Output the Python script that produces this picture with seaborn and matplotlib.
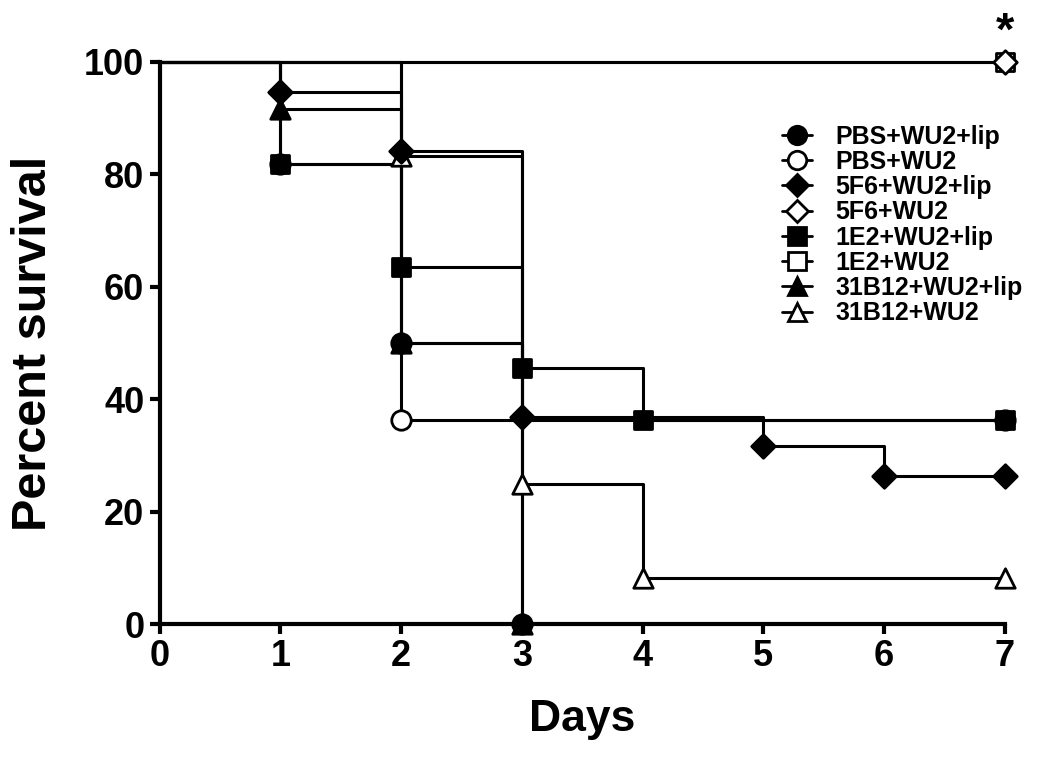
import matplotlib
matplotlib.use("Agg")
import matplotlib.pyplot as plt
import seaborn as sns
from matplotlib.lines import Line2D

# survival curves (day, percent surviving)
groups = ['PBS+WU2+lip', 'PBS+WU2', '5F6+WU2+lip', '5F6+WU2',
          '1E2+WU2+lip', '1E2+WU2', '31B12+WU2+lip', '31B12+WU2']
days = {
    'PBS+WU2+lip':   [0, 1, 2, 3],
    'PBS+WU2':       [0, 2, 7],
    '5F6+WU2+lip':   [0, 1, 2, 3, 5, 6, 7],
    '5F6+WU2':       [0, 7],
    '1E2+WU2+lip':   [0, 1, 2, 3, 4, 7],
    '1E2+WU2':       [0, 7],
    '31B12+WU2+lip': [0, 1, 2, 3],
    '31B12+WU2':     [0, 2, 3, 4, 7],
}
survival = {
    'PBS+WU2+lip':   [100, 81.8, 50.0, 0],
    'PBS+WU2':       [100, 36.4, 36.4],
    '5F6+WU2+lip':   [100, 94.7, 84.2, 36.8, 31.6, 26.3, 26.3],
    '5F6+WU2':       [100, 100],
    '1E2+WU2+lip':   [100, 81.8, 63.6, 45.5, 36.4, 36.4],
    '1E2+WU2':       [100, 100],
    '31B12+WU2+lip': [100, 91.7, 50.0, 0],
    '31B12+WU2':     [100, 83.3, 25.0, 8.3, 8.3],
}
markers = {'PBS+WU2+lip': 'o', 'PBS+WU2': 'o', '5F6+WU2+lip': 'D', '5F6+WU2': 'D',
           '1E2+WU2+lip': 's', '1E2+WU2': 's', '31B12+WU2+lip': '^', '31B12+WU2': '^'}
msize = {'o': 14, 'D': 12, 's': 13, '^': 14}

sns.set_style("ticks")
plt.rcParams['font.family'] = ['Liberation Sans', 'DejaVu Sans']
plt.rcParams['font.weight'] = 'bold'
plt.rcParams.update({'text.color': 'black', 'axes.labelcolor': 'black',
                     'axes.edgecolor': 'black', 'xtick.color': 'black',
                     'ytick.color': 'black'})

fig = plt.figure(figsize=(10.5, 7.64), dpi=100)
ax = fig.add_axes([0.152, 0.183, 0.805, 0.736])

draw_order = ['1E2+WU2', '5F6+WU2', 'PBS+WU2', '31B12+WU2', 'PBS+WU2+lip',
              '31B12+WU2+lip', '1E2+WU2+lip', '5F6+WU2+lip']
for g in draw_order:
    sns.lineplot(x=days[g], y=survival[g], ax=ax, color='black', lw=2.2,
                 drawstyle='steps-post', clip_on=False, zorder=3)
for g in draw_order:
    m = markers[g]
    filled = g.endswith('lip')
    sns.scatterplot(x=days[g][1:], y=survival[g][1:], ax=ax, marker=m,
                    s=msize[m] ** 2, color='black' if filled else 'white',
                    edgecolor='black', linewidth=2, clip_on=False, zorder=5)

ax.set_xlim(0, 7)
ax.set_ylim(0, 100)
ax.set_xticks(range(0, 8))
ax.set_yticks(range(0, 101, 20))
for side in ['left', 'bottom']:
    ax.spines[side].set_linewidth(3)
sns.despine(ax=ax)
ax.tick_params(width=3, length=7, labelsize=26, pad=4)
for lab in ax.get_xticklabels() + ax.get_yticklabels():
    lab.set_fontweight('bold')
ax.set_xlabel('Days', fontsize=32, fontweight='bold', labelpad=18)
ax.set_ylabel('Percent survival', fontsize=35, fontweight='bold', labelpad=20)

ax.text(7, 101.2, '*', ha='center', va='bottom', fontsize=34, fontweight='bold')

handles = []
for g in groups:
    m = markers[g]
    filled = g.endswith('lip')
    handles.append(Line2D([], [], color='black', lw=2, marker=m, markersize=msize[m] * 0.95,
                          markerfacecolor='black' if filled else 'white',
                          markeredgecolor='black', markeredgewidth=2))
ax.legend(handles, groups, loc='upper left', bbox_to_anchor=(0.724, 0.906),
          frameon=False, handlelength=1.2, handletextpad=0.95,
          labelspacing=0.05, borderaxespad=0,
          prop={'weight': 'bold', 'size': 18})

fig.savefig('out.png', dpi=100)
